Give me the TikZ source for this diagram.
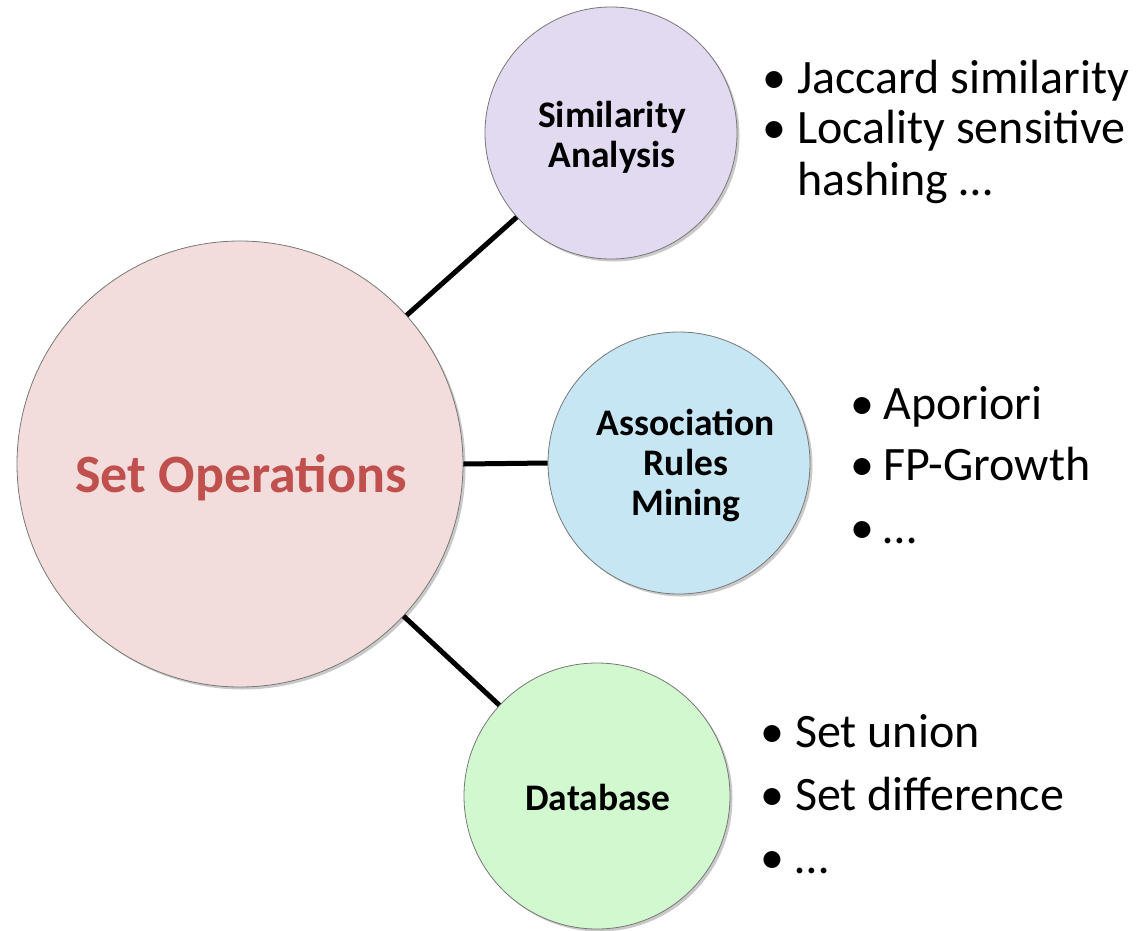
\documentclass[tikz,border=0pt]{standalone}
\usepackage{fontspec}
\setmainfont{Carlito}
\usetikzlibrary{shadows}
\definecolor{pinkfill}{RGB}{242,221,220}
\definecolor{lavfill}{RGB}{225,218,240}
\definecolor{bluefill}{RGB}{197,230,242}
\definecolor{greenfill}{RGB}{210,248,208}
\definecolor{settext}{RGB}{192,80,77}
\definecolor{rimgray}{RGB}{120,120,120}
\begin{document}
\begin{tikzpicture}[x=1pt,y=-1pt,
  bubble/.style={circle, draw=rimgray, line width=0.8pt, inner sep=0pt, align=center,
    font=\bfseries\fontsize{37.5}{40}\selectfont,
    drop shadow={shadow xshift=2.5pt, shadow yshift=-2.5pt, opacity=0.3, fill=black!70}},
  link/.style={line width=5pt, black},
  itemtext/.style={anchor=base west, inner sep=0pt, font=\fontsize{48}{54}\selectfont},
  label/.style={inner sep=0pt, align=center, font=\bfseries\fontsize{37.5}{40}\selectfont},
]
\useasboundingbox (0,0) rectangle (1136,930);

\node[bubble, fill=pinkfill, minimum size=446pt] (set) at (240,464) {};
\node[bubble, fill=lavfill, minimum size=252pt] (sim) at (611,133) {};
\node[bubble, fill=bluefill, minimum size=262pt] (assoc) at (679,463) {};
\node[bubble, fill=greenfill, minimum size=266pt] (db) at (597,796) {};

\node[label, text=settext, font=\bfseries\fontsize{54}{60}\selectfont] (setlbl) at (241,478) {Set Operations};
\node[label] (simlbl) at (612,137) {Similarity\\Analysis};
\node[label] (assoclbl) at (686,465) {Association\\Rules\\Mining};
\node[label] (dblbl) at (598,797) {Database};

\draw[link] (set) -- (sim);
\draw[link] (set.east) -- (assoc.west);
\draw[link] (set) -- (db);

% Similarity list
\node[itemtext] (b1) at (762,93) {•};
\node[itemtext] (t1) at (797,93) {Jaccard similarity};
\node[itemtext] (b2) at (762,143) {•};
\node[itemtext] (t2) at (797,143) {Locality sensitive};
\node[itemtext] (t3) at (797,195) {hashing …};

% Association list
\node[itemtext] (b4) at (850,419) {•};
\node[itemtext] (t4) at (883,419) {Aporiori};
\node[itemtext] (b5) at (850,480) {•};
\node[itemtext] (t5) at (883,480) {FP-Growth};
\node[itemtext] (b6) at (850,543) {•};
\node[itemtext] (t6) at (883,543) {…};

% Database list
\node[itemtext] (b7) at (760,747) {•};
\node[itemtext] (t7) at (795,747) {Set union};
\node[itemtext] (b8) at (760,810) {•};
\node[itemtext] (t8) at (795,810) {Set difference};
\node[itemtext] (b9) at (760,873) {•};
\node[itemtext] (t9) at (795,873) {…};
\end{tikzpicture}
\end{document}
